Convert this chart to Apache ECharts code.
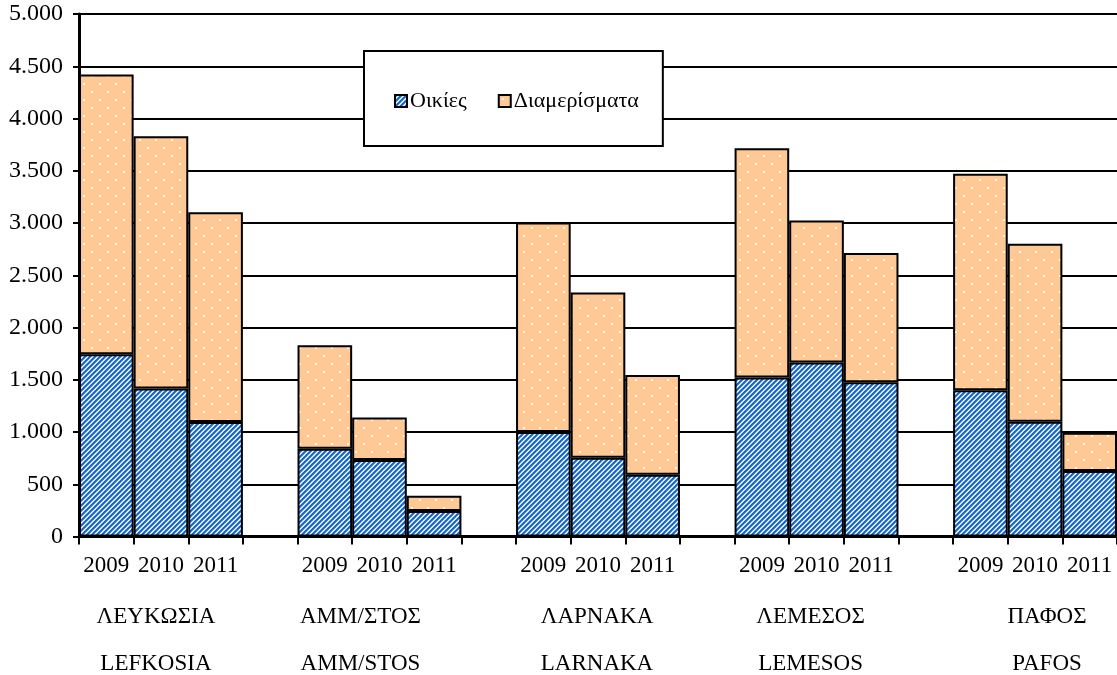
<!DOCTYPE html>
<html>
<head>
<meta charset="utf-8">
<script src="https://cdn.jsdelivr.net/npm/echarts@6/dist/echarts.min.js"></script>
<style>html,body{margin:0;padding:0;background:#fff}#c{width:1117px;height:675px}</style>
</head>
<body>
<div id="c"></div>
<script>
// ---- data ----
const years = ['2009', '2010', '2011'];
const citiesGreek = ['ΛΕΥΚΩΣΙΑ', 'ΑΜΜ/ΣΤΟΣ', 'ΛΑΡΝΑΚΑ', 'ΛΕΜΕΣΟΣ', 'ΠΑΦΟΣ'];
const citiesLatin = ['LEFKOSIA', 'AMM/STOS', 'LARNAKA', 'LEMESOS', 'PAFOS'];
const seriesNames = ['Οικίες', 'Διαμερίσματα'];
const oikies = [1745, 1417, 1095, 839, 731, 244, 999, 753, 591, 1522, 1665, 1477, 1400, 1097, 626];
const diamerismata = [2675, 2414, 2009, 991, 407, 146, 2006, 1583, 955, 2193, 1359, 1235, 2071, 1704, 366];
const yTicks = [0, 500, 1000, 1500, 2000, 2500, 3000, 3500, 4000, 4500, 5000];

// ---- layout (not data) ----
const cityShift = [-5, -19, -1, -6, 12];

// Build 19 categories: 3 bars per city + one empty gap slot between cities
const catYears = [], catCities = [], sOik = [], sDiam = [];
citiesGreek.forEach((c, ci) => {
  years.forEach((y, yi) => {
    catYears.push(y);
    const sh = cityShift[ci];
    catCities.push(yi === 1 ? {
      value: c + '\n' + citiesLatin[ci],
      textStyle: { padding: sh < 0 ? [0, -2 * sh, 0, 0] : [0, 0, 0, 2 * sh] }
    } : '');
    sOik.push(oikies[ci * 3 + yi]);
    sDiam.push(diamerismata[ci * 3 + yi]);
  });
  if (ci < citiesGreek.length - 1) {
    catYears.push(''); catCities.push(''); sOik.push('-'); sDiam.push('-');
  }
});

function hatch() {
  const n = 5, cv = document.createElement('canvas');
  cv.width = n; cv.height = n;
  const ctx = cv.getContext('2d');
  for (let x = 0; x < n; x++) for (let y = 0; y < n; y++) {
    const k = (x + y) % n;
    ctx.fillStyle = k < 2 ? '#1766cc' : (k === 2 ? '#4a8ddc' : (k === 3 ? '#ffffff' : '#b5d3f2'));
    ctx.fillRect(x, y, 1, 1);
  }
  return cv;
}
function dots() {
  const cv = document.createElement('canvas');
  cv.width = 16; cv.height = 16;
  const ctx = cv.getContext('2d');
  ctx.fillStyle = '#ffc995'; ctx.fillRect(0, 0, 16, 16);
  ctx.fillStyle = 'rgba(255,255,255,0.85)';
  ctx.fillRect(3, 3, 2, 2); ctx.fillRect(11, 11, 2, 2);
  return cv;
}

const FONT = 'Liberation Serif';
const fmt = v => v >= 1000 ? Math.floor(v / 1000) + '.' + String(v % 1000).padStart(3, '0') : String(v);

const chart = echarts.init(document.getElementById('c'), null, { renderer: 'canvas' });
chart.setOption({
  animation: false,
  backgroundColor: '#fff',
  textStyle: { fontFamily: FONT, color: '#000' },
  grid: { left: 79, right: 0, top: 14, bottom: 138.5, containLabel: false, outerBoundsMode: 'none' },
  legend: {
    left: 364, top: 51,
    padding: [39, 24, 34, 30],
    itemGap: 31, itemWidth: 12, itemHeight: 12,
    borderColor: '#000', borderWidth: 2,
    backgroundColor: '#fff',
    icon: 'rect',
    textStyle: { fontFamily: FONT, fontSize: 22, color: '#000', padding: [0, 0, 0, -2] },
    data: seriesNames
  },
  xAxis: [{
    type: 'category', data: catYears, gridIndex: 0, position: 'bottom',
    axisLine: { lineStyle: { color: '#000', width: 3 } },
    axisTick: { show: true, interval: 0, length: 8, lineStyle: { color: '#000', width: 2 } },
    axisLabel: { interval: 0, margin: 18, fontFamily: FONT, fontSize: 23, color: '#000' },
    splitLine: { show: false }
  }, {
    type: 'category', data: catCities, gridIndex: 0, position: 'bottom',
    axisLine: { show: false }, axisTick: { show: false },
    axisLabel: { interval: 0, margin: 57, fontFamily: FONT, fontSize: 23, color: '#000', lineHeight: 47 },
    splitLine: { show: false }
  }],
  yAxis: {
    type: 'value', min: yTicks[0], max: yTicks[yTicks.length - 1], interval: yTicks[1] - yTicks[0],
    axisLine: { show: true, lineStyle: { color: '#000', width: 3 } },
    axisTick: { show: true, length: 6, lineStyle: { color: '#000', width: 2 } },
    axisLabel: { margin: 16, fontFamily: FONT, fontSize: 24, color: '#000', formatter: fmt },
    splitLine: { show: true, lineStyle: { color: '#000', width: 2 } }
  },
  series: [{
    name: seriesNames[0], type: 'bar', stack: 'a', xAxisIndex: 0,
    data: sOik, barCategoryGap: '0%',
    itemStyle: { color: { image: hatch(), repeat: 'repeat' }, borderColor: '#000', borderWidth: 2 }
  }, {
    name: seriesNames[1], type: 'bar', stack: 'a', xAxisIndex: 0,
    data: sDiam, barCategoryGap: '0%',
    itemStyle: { color: { image: dots(), repeat: 'repeat' }, borderColor: '#000', borderWidth: 2 }
  }]
});
</script>
</body>
</html>
